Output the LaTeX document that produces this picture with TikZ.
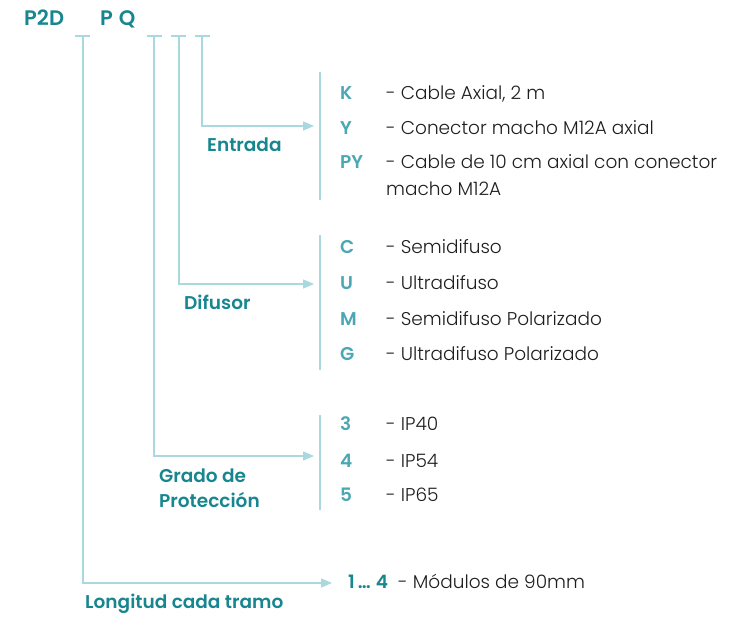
\documentclass[tikz,border=0pt]{standalone}
\usepackage{fontspec}
\setmainfont{Poppins}
\newfontfamily\thinfont{Poppins Light}
\newfontfamily\semifont{Poppins SemiBold}
\usetikzlibrary{arrows.meta,positioning}
\definecolor{deepteal}{HTML}{17868F}
\definecolor{codeteal}{HTML}{4BA7B4}
\definecolor{wire}{HTML}{A9D8DF}
\definecolor{ink}{HTML}{1E1E1E}
\tikzset{
    x=1pt,y=-1pt,
    wire/.style={draw=wire,line width=1.4pt},
    feed/.style={wire,-{Triangle[length=11pt,width=9pt]}},
    head/.style={font=\fontsize{18.5}{25}\selectfont\semifont,text=deepteal,anchor=base west,inner sep=0,align=left},
    code/.style={font=\fontsize{18.5}{27}\selectfont\semifont,text=codeteal,anchor=base west,inner sep=0},
    desc/.style={font=\fontsize{18.5}{27}\selectfont\thinfont,text=ink,anchor=base west,inner sep=0,align=left}
}
\begin{document}
\begin{tikzpicture}
    \useasboundingbox (0,0) rectangle (740,617);
    % model code
    \node[head,font=\fontsize{21}{25}\selectfont\semifont] (p2d) at (24,26) {P2D};
    \node[head,font=\fontsize{21}{25}\selectfont\semifont] (pq) at (100,26) {P\hspace{6pt}Q};

    % ticks under the code
    \coordinate (t1) at (83,36);
    \coordinate (t2) at (154,36);
    \coordinate (t3) at (179,36);
    \coordinate (t4) at (202,36);
    \path[wire] (75,36) -- (90,36) (147,36) -- (162,36) (171,36) -- (186,36) (195,36) -- (210,36);

    % Entrada
    \coordinate (e) at (314,126);
    \draw[wire] (320,72) -- (320,200);
    \draw[feed] (t4) |- (e);
    \node[head] (entrada) at (207,152) {Entrada};
    \node[code] (k) at (340,99.5) {K};
    \node[desc] (dk) at (386,99.5) {- Cable Axial, 2 m};
    \node[code] (y) at (340,134.5) {Y};
    \node[desc] (dy) at (386,134.5) {- Conector macho M12A axial};
    \node[code] (py) at (340,168.5) {PY};
    % base of a two-line node is its last line
    \node[desc] (dpy) at (386,195.5) {- Cable de 10 cm axial con conector\\macho M12A};

    % Difusor
    \coordinate (d) at (314,284);
    \draw[wire] (320,235) -- (320,370);
    \draw[feed] (t3) |- (d);
    \node[head] (difusor) at (184,310) {Difusor};
    \node[code] (c) at (340,253.5) {C};
    \node[desc] (dc) at (386,253.5) {- Semidifuso};
    \node[code] (u) at (340,289.5) {U};
    \node[desc] (du) at (386,289.5) {- Ultradifuso};
    \node[code] (m) at (340,325.5) {M};
    \node[desc] (dm) at (386,325.5) {- Semidifuso Polarizado};
    \node[code] (g) at (340,360.5) {G};
    \node[desc] (dg) at (386,360.5) {- Ultradifuso Polarizado};

    % Grado de proteccion
    \coordinate (ip) at (314,456);
    \draw[wire] (320,415) -- (320,510);
    \draw[feed] (t2) |- (ip);
    \node[head] (grado) at (159,508) {Grado de\\Protección};
    \node[code] (n3) at (340,430.5) {3};
    \node[desc] (d3) at (386,430.5) {- IP40};
    \node[code] (n4) at (340,467.5) {4};
    \node[desc] (d4) at (386,467.5) {- IP54};
    \node[code] (n5) at (340,501.5) {5};
    \node[desc] (d5) at (386,501.5) {- IP65};

    % Longitud
    \coordinate (l) at (332,583);
    \draw[feed] (t1) |- (l);
    \node[head] (longitud) at (85,609) {Longitud cada tramo};
    \node[head] (n14) at (348,589) {1\,…\hspace{5pt}4};
    \node[desc] (d14) at (398,589) {- Módulos de 90mm};
\end{tikzpicture}
\end{document}
